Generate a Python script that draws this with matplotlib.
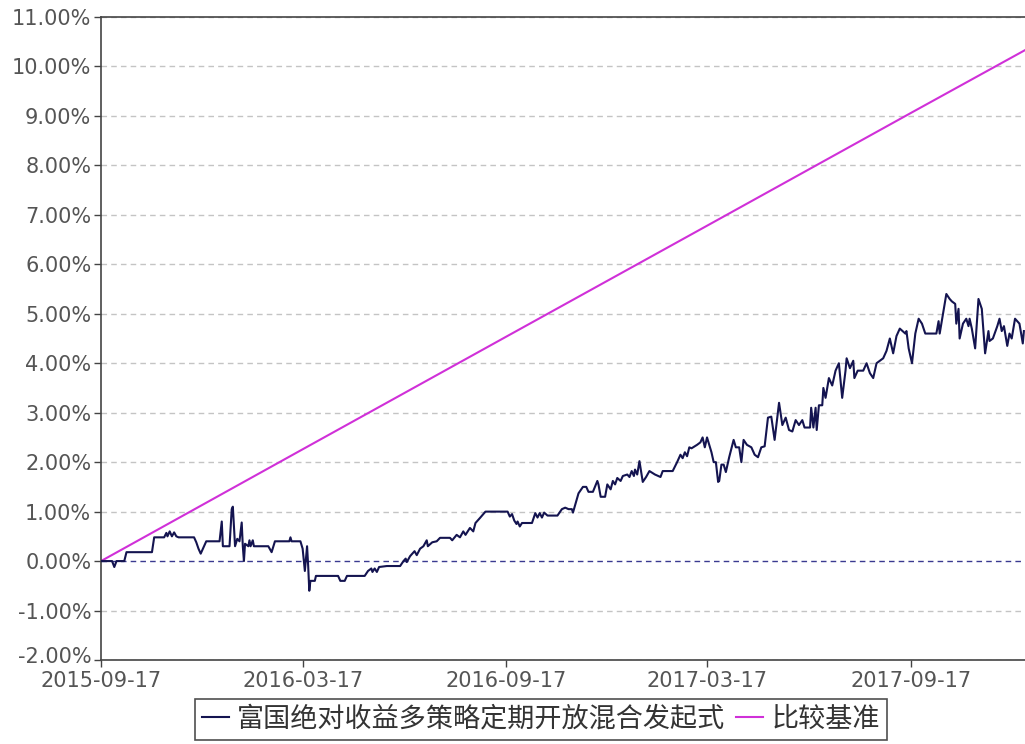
# -*- coding:utf-8 -*-
import numpy as np
import pandas as pd
import matplotlib
matplotlib.use("Agg")
import matplotlib.pyplot as plt
from matplotlib.transforms import ScaledTranslation

START = pd.Timestamp("2015-09-17")

# fund cumulative return (%): days since 2015-09-17
fund_days = [0, 10, 12, 14, 21, 23, 46, 48, 57, 59, 60, 62, 64, 66, 68, 70, 84, 86, 88, 90,
             92, 95, 107, 109, 110, 116, 118, 119, 121, 123, 125, 127, 128, 129, 130, 133, 134,
             135, 137, 138, 151, 154, 157, 170, 171, 172, 180, 182, 184, 186, 187, 188, 189,
             193, 194, 214, 216, 220, 222, 238, 241, 244, 245, 247, 249, 251, 258, 270, 273,
             275, 276, 279, 283, 285, 288, 291, 294, 295, 299, 303, 306, 315, 317, 321, 324,
             327, 329, 333, 336, 338, 342, 347, 367, 369, 371, 373, 375,
             376, 378, 380, 389, 392, 394, 396, 398, 400, 403, 412, 416, 419, 422, 425, 426,
             431, 435, 438, 440, 444, 448, 449, 451, 455, 457, 460, 462, 464, 466, 469, 471,
             475, 477, 479, 481, 482, 484, 486, 489, 492, 495, 500, 505, 507, 516, 520, 523,
             525, 527, 529, 531, 533, 538, 541, 543, 545, 547, 549, 551, 553, 555, 557,
             558, 560, 562, 564, 567, 571, 573, 576, 578, 580, 583, 587, 590, 593, 596, 599,
             602, 605, 608, 612, 615, 618, 621, 624, 627, 630, 633, 635, 640, 641, 643, 645,
             646, 648, 651, 652, 654, 657, 660, 663, 666, 669, 672, 673,
             676, 679, 680, 683, 688, 691, 694, 697, 700, 703, 706, 709, 712, 715, 718, 721,
             726, 727, 729, 732, 735, 738, 741, 744, 754, 756, 757, 760, 763, 766, 768, 771,
             772, 774, 775, 778, 781, 783, 784, 786, 789, 792, 795, 796, 798, 801, 802, 805,
             809, 811, 813, 815, 818, 820, 822, 825, 827, 829, 832, 833]
fund_vals = [0.0, 0.0, -0.12, 0.0, 0.0, 0.18, 0.18, 0.48, 0.48, 0.57, 0.50, 0.60, 0.50, 0.58,
             0.50, 0.48, 0.48, 0.38, 0.25, 0.15,
             0.25, 0.40, 0.40, 0.80, 0.30, 0.30, 1.05, 1.10, 0.30, 0.45, 0.40, 0.78, 0.30, 0.0,
             0.35, 0.30, 0.42,
             0.30, 0.42, 0.30, 0.30, 0.18, 0.40, 0.40, 0.48, 0.40, 0.40, 0.25, -0.20, 0.30,
             -0.10, -0.60, -0.40,
             -0.40, -0.30, -0.30, -0.40, -0.40, -0.30, -0.30, -0.20, -0.15, -0.22, -0.15,
             -0.22, -0.12, -0.10, -0.10, 0.0,
             0.05, -0.02, 0.10, 0.20, 0.12, 0.25, 0.30, 0.42, 0.30, 0.38, 0.40, 0.47, 0.47,
             0.42, 0.53, 0.48,
             0.60, 0.53, 0.67, 0.60, 0.77, 0.87, 1.00, 1.00, 0.90, 0.95, 0.82, 0.75,
             0.80, 0.70, 0.77, 0.77, 0.97, 0.88, 0.97, 0.88, 0.98, 0.92, 0.92, 1.05, 1.08,
             1.05, 1.05, 0.98,
             1.37, 1.50, 1.50, 1.40, 1.40, 1.62, 1.55, 1.30, 1.30, 1.55, 1.45, 1.62, 1.55,
             1.68, 1.62, 1.72,
             1.75, 1.70, 1.82, 1.72, 1.85, 1.75, 2.02, 1.60, 1.70, 1.82, 1.75, 1.70, 1.82,
             1.82, 2.00, 2.15,
             2.08, 2.20, 2.12, 2.30, 2.28, 2.35, 2.40, 2.50, 2.30, 2.50, 2.35, 2.20, 2.00,
             2.00, 1.60,
             1.62, 1.95, 1.95, 1.80, 2.10, 2.45, 2.30, 2.30, 2.00, 2.45, 2.35, 2.30, 2.15,
             2.10, 2.30, 2.32,
             2.90, 2.92, 2.45, 3.20, 2.75, 2.90, 2.65, 2.62, 2.85, 2.75, 2.85, 2.70, 2.70,
             3.10, 2.70, 3.10,
             2.65, 3.15, 3.15, 3.50, 3.30, 3.70, 3.55, 3.85, 4.00, 3.30, 3.85, 4.10,
             3.90, 4.05, 3.70, 3.85, 3.85, 4.00, 3.80, 3.70, 4.00, 4.05, 4.10, 4.25, 4.50,
             4.20, 4.55, 4.70,
             4.60, 4.65, 4.30, 4.00, 4.60, 4.90, 4.80, 4.60, 4.60, 4.85, 4.60, 5.00, 5.40,
             5.30, 5.25, 5.20,
             4.80, 5.10, 4.50, 4.80, 4.90, 4.75, 4.90, 4.70, 4.30, 5.30, 5.10, 4.80, 4.20,
             4.65, 4.45, 4.50,
             4.75, 4.90, 4.65, 4.75, 4.35, 4.60, 4.50, 4.90, 4.85, 4.80, 4.40, 4.65]

# benchmark (%), read at the tick dates and the right edge
bench_days = [0, 182, 366, 547, 731, 834]
bench_vals = [0.0, 2.26, 4.54, 6.78, 9.06, 10.33]

tick_dates = ["2015-09-17", "2016-03-17", "2016-09-17", "2017-03-17", "2017-09-17"]
y_ticks = list(range(-2, 12))
legend_labels = ["富国绝对收益多策略定期开放混合发起式", "比较基准"]

fund_x = START + pd.to_timedelta(fund_days, unit="D")
bench_x = START + pd.to_timedelta(bench_days, unit="D")

plt.rcParams['font.family'] = ['DejaVu Sans', 'Noto Sans CJK SC']
text_color = '#555555'

fig = plt.figure(figsize=(10.25, 7.44), dpi=100)
ax = fig.add_axes([101/1025, 1 - 660/744, 924/1025, 643/744])

for v in y_ticks:
    if v == 0:
        ax.axhline(v, color='#3a3a90', lw=1.0, ls=(0, (4, 3)), zorder=1)
    else:
        ax.axhline(v, color='#c4c4c4', lw=1.0, ls=(0, (4, 3)), zorder=1)

line_fund, = ax.plot(fund_x, fund_vals, color='#141450', lw=1.5, zorder=3)
line_bench, = ax.plot(bench_x, bench_vals, color='#d030d8', lw=1.5, zorder=2)

ax.set_ylim(-2, 11)
ax.set_xlim(START, START + pd.Timedelta(days=834))
ax.set_yticks(y_ticks)
ax.set_yticklabels(["%.2f%%" % v for v in y_ticks])
ax.set_xticks(pd.to_datetime(tick_dates))
ax.set_xticklabels(tick_dates)
ax.tick_params(axis='both', colors='#444444', labelcolor=text_color, labelsize=15,
               length=5, width=1, pad=2)
ax.tick_params(axis='x', pad=3)

# lift the bottom y label a little so it clears the first date label
lbl = ax.get_yticklabels()[0]
lbl.set_transform(lbl.get_transform() + ScaledTranslation(0, 5/100, fig.dpi_scale_trans))

for s in ['left', 'bottom', 'top']:
    ax.spines[s].set_color('#444444')
    ax.spines[s].set_linewidth(1.2)
ax.spines['right'].set_visible(False)

leg = fig.legend([line_fund, line_bench], legend_labels, loc='upper center',
                 bbox_to_anchor=(541/1025, 1 - 699/744), ncol=2, frameon=True,
                 fancybox=False, edgecolor='#222222', handlelength=1.0, handletextpad=0.3,
                 columnspacing=0.4, borderpad=0.25, borderaxespad=0,
                 prop={'family': ['Noto Sans CJK SC', 'DejaVu Sans'], 'size': 19.5})
leg.get_frame().set_linewidth(1.2)
for t in leg.get_texts():
    t.set_color('#333333')

fig.savefig("out.png", dpi=100)
